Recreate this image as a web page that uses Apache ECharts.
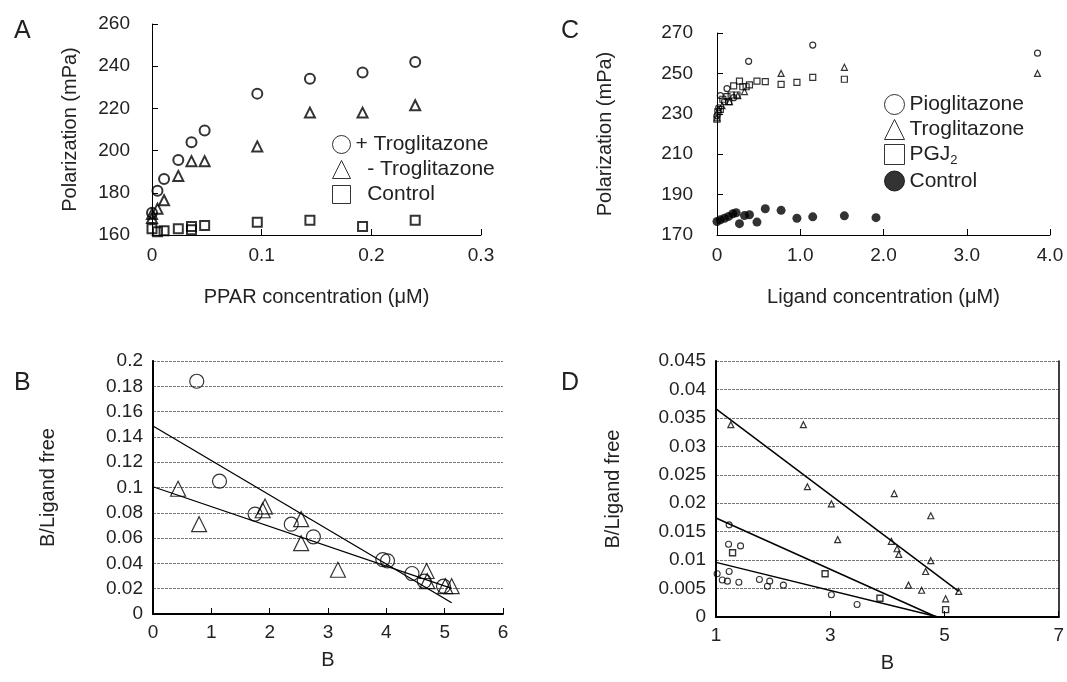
<!DOCTYPE html>
<html><head><meta charset="utf-8">
<script src="https://cdn.jsdelivr.net/npm/echarts@6/dist/echarts.min.js"></script>
<style>html,body{margin:0;padding:0;background:#fff}#c{width:1067px;height:682px}</style>
</head><body><div id="c"></div>
<script>
// ---- Panel A: polarization vs PPAR concentration ----
const aPlusTrog = [[0,170.5],[0.005,181],[0.011,186.5],[0.024,195.5],[0.036,204],[0.048,209.5],[0.096,227],[0.144,234],[0.192,237],[0.24,242]];
const aMinusTrog = [[0,168],[0,170],[0.005,172.5],[0.011,176.5],[0.024,188],[0.036,195],[0.048,195],[0.096,202],[0.144,218],[0.192,218],[0.24,221.5]];
const aControl = [[0,163],[0.005,161.5],[0.011,162],[0.024,163],[0.036,162.5],[0.036,164],[0.048,164.5],[0.096,166],[0.144,167],[0.192,164],[0.24,167]];
const aXTicks = [0, 0.1, 0.2, 0.3];
const aYTicks = [160, 180, 200, 220, 240, 260];
// ---- Panel C: polarization vs ligand concentration ----
const cPio = [[0,229],[0.02,233],[0.04,239],[0.09,236],[0.12,242.5],[0.2,238],[0.38,256],[1.15,264],[3.85,260]];
const cTrog = [[0,228],[0.02,232],[0.06,234],[0.15,236],[0.25,239],[0.33,241],[0.77,250],[1.53,253],[3.85,250]];
const cPGJ = [[0,227.3],[0.01,231],[0.04,232.2],[0.07,237.2],[0.12,238.5],[0.14,236],[0.17,239.3],[0.2,243.8],[0.24,239.3],[0.27,246.2],[0.31,243.4],[0.35,243.4],[0.39,244.3],[0.48,246.2],[0.58,245.9],[0.77,244.6],[0.96,245.6],[1.15,248],[1.53,247.1]];
const cControl = [[0,176.7],[0.04,177.5],[0.09,178.3],[0.14,179.2],[0.19,180.5],[0.23,181],[0.27,175.6],[0.33,179.6],[0.39,180],[0.48,176.4],[0.58,183],[0.77,182.2],[0.96,178.3],[1.15,179],[1.53,179.5],[1.91,178.6]];
// ---- Panel B: Scatchard plot ----
const bCircles = [[0.75,0.184],[1.14,0.105],[1.75,0.079],[2.37,0.071],[2.75,0.061],[3.94,0.043],[4.02,0.042],[4.44,0.032],[4.65,0.026],[4.98,0.022]];
const bTriangles = [[0.43,0.099],[0.79,0.071],[1.88,0.082],[1.92,0.085],[2.54,0.075],[2.54,0.056],[3.17,0.035],[4.69,0.034],[4.7,0.026],[5.01,0.022],[5.12,0.022]];
const bFit1 = [[0,0.1486],[5.12,0.0089]];
const bFit2 = [[0,0.1006],[5.12,0.0203]];
// ---- Panel D: Scatchard plot ----
const dTriangles = [[1.26,0.0338],[2.53,0.0338],[2.6,0.0229],[3.02,0.0199],[3.13,0.0136],[4.12,0.0217],[4.76,0.0178],[4.07,0.0133],[4.17,0.012],[4.2,0.011],[4.76,0.0099],[4.67,0.008],[4.37,0.0056],[4.6,0.0047],[5.25,0.0045],[5.02,0.0032]];
const dSquares = [[1.29,0.0113],[2.91,0.0076],[3.87,0.0033],[5.02,0.0013]];
const dCircles = [[1.02,0.0076],[1.23,0.0162],[1.22,0.0128],[1.43,0.0125],[1.23,0.008],[1.11,0.0065],[1.2,0.0063],[1.4,0.0061],[1.76,0.0066],[1.94,0.0063],[1.9,0.0054],[2.18,0.0056],[3.02,0.0039],[3.47,0.0022]];
const dFit1 = [[1,0.0366],[5.25,0.0045]];
const dFit2 = [[1,0.0174],[4.86,0]];
const dFit3 = [[1,0.0096],[4.89,0]];

const FONT = '"Liberation Sans", Arial, Helvetica, sans-serif';
const TXT = '#222';
const HOLLOW = 'rgba(255,255,255,0)';
const TICK_FS = 19, NAME_FS = 20, LEG_FS = 21;

function hollow(name, xi, yi, data, symbol, size, bw) {
  return { name, type: 'scatter', xAxisIndex: xi, yAxisIndex: yi, data, symbol, symbolSize: size,
    itemStyle: { color: HOLLOW, borderColor: '#000', borderWidth: bw }, z: 3, silent: true };
}
function fit(xi, yi, data, w) {
  return { type: 'line', xAxisIndex: xi, yAxisIndex: yi, data, showSymbol: false, symbol: 'none',
    lineStyle: { color: '#000', width: w }, z: 4, silent: true };
}
function xAx(gi, min, max, interval, fmt, name, gap, lw, lm) {
  return { type: 'value', gridIndex: gi, min, max, interval, name, nameLocation: 'middle', nameGap: gap,
    nameTextStyle: { fontFamily: FONT, fontSize: NAME_FS, color: TXT },
    axisLine: { show: true, onZero: false, lineStyle: { color: '#000', width: lw } },
    axisTick: { show: true, inside: true, length: 6, lineStyle: { color: '#000' } },
    axisLabel: { formatter: fmt, fontFamily: FONT, fontSize: TICK_FS, color: TXT, margin: lm },
    splitLine: { show: false } };
}
function yAx(gi, min, max, interval, fmt, name, gap, lw, lm, grid) {
  return { type: 'value', gridIndex: gi, min, max, interval, name, nameLocation: 'middle', nameGap: gap,
    nameTextStyle: { fontFamily: FONT, fontSize: NAME_FS, color: TXT },
    axisLine: { show: true, onZero: false, lineStyle: { color: '#000', width: lw } },
    axisTick: { show: !grid, inside: true, length: 6, lineStyle: { color: '#000' } },
    axisLabel: { formatter: fmt, fontFamily: FONT, fontSize: TICK_FS, color: TXT, margin: lm },
    splitLine: { show: !!grid, lineStyle: { color: '#777', type: [3, 1], width: 1 } } };
}
function rightBorder(gi, min, max) {
  return { type: 'value', gridIndex: gi, min, max, position: 'right',
    axisLine: { show: true, lineStyle: { color: '#000', width: 1.5 } },
    axisTick: { show: false }, axisLabel: { show: false }, splitLine: { show: false } };
}
const num = v => String(+v.toFixed(3));
const letter = (t, left, top) => ({ text: t, left, top, textStyle: { fontFamily: FONT, fontSize: 25, fontWeight: 'normal', color: TXT } });
const legA = { '+ Troglitazone': '+ Troglitazone', '- Troglitazone': '  - Troglitazone', 'Control': '  Control' };

const option = {
  backgroundColor: '#fff',
  animation: false,
  title: [ letter('A', 9, 14), letter('C', 556, 14), letter('B', 9, 366), letter('D', 556, 366) ],
  grid: [
    { left: 152, top: 24, width: 329, height: 211 },
    { left: 717, top: 33, width: 333, height: 202 },
    { left: 153, top: 361, width: 350, height: 253 },
    { left: 716, top: 361, width: 343, height: 256 }
  ],
  legend: [
    { orient: 'vertical', left: 332, top: 134, padding: 0, itemWidth: 18, itemHeight: 18, itemGap: 4, selectedMode: false,
      textStyle: { fontFamily: FONT, fontSize: LEG_FS, lineHeight: 18, color: TXT },
      formatter: n => legA[n] || n,
      itemStyle: { color: '#fff', borderColor: '#000', borderWidth: 1 },
      data: [ { name: '+ Troglitazone', icon: 'circle' }, { name: '- Troglitazone', icon: 'triangle' }, { name: 'Control', icon: 'rect' } ] },
    { orient: 'vertical', left: 884, top: 94, padding: 0, itemWidth: 20, itemHeight: 20, itemGap: 4, selectedMode: false,
      textStyle: { fontFamily: FONT, fontSize: LEG_FS, lineHeight: 20, color: TXT, rich: { s: { fontFamily: FONT, fontSize: 13, color: TXT, padding: [11, 0, 0, 0] } } },
      formatter: n => n === 'PGJ2' ? 'PGJ{s|2}' : n,
      itemStyle: { color: '#fff', borderColor: '#000', borderWidth: 1 },
      data: [ { name: 'Pioglitazone', icon: 'circle' }, { name: 'Troglitazone', icon: 'triangle' }, { name: 'PGJ2', icon: 'rect' },
              { name: 'Control', icon: 'circle', itemStyle: { color: '#000', borderColor: '#000', borderWidth: 1 } } ] }
  ],
  xAxis: [
    xAx(0, aXTicks[0], aXTicks[aXTicks.length - 1], 0.1, v => v === 0 ? '0' : String(+v.toFixed(1)), 'PPAR concentration (μM)', 52, 1, 11),
    xAx(1, 0, 4, 1, v => v === 0 ? '0' : v.toFixed(1), 'Ligand concentration (μM)', 52, 1, 11),
    xAx(2, 0, 6, 1, v => String(v), 'B', 36, 2, 9),
    xAx(3, 1, 7, 2, v => String(v), 'B', 36, 2, 9)
  ],
  yAxis: [
    yAx(0, aYTicks[0], aYTicks[aYTicks.length - 1], 20, v => String(v), 'Polarization (mPa)', 72, 1, 22, false),
    yAx(1, 170, 270, 20, v => String(v), 'Polarization (mPa)', 102, 1, 24, false),
    yAx(2, 0, 0.2, 0.02, num, 'B/Ligand free', 95, 2, 10, true),
    yAx(3, 0, 0.045, 0.005, num, 'B/Ligand free', 93, 2, 10, true),
    rightBorder(2, 0, 0.2),
    rightBorder(3, 0, 0.045)
  ],
  series: [
    hollow('+ Troglitazone', 0, 0, aPlusTrog, 'circle', 10, 2),
    hollow('- Troglitazone', 0, 0, aMinusTrog, 'triangle', 10, 2),
    hollow('Control', 0, 0, aControl, 'rect', 9, 2),
    hollow('Pioglitazone', 1, 1, cPio, 'circle', 6, 1.2),
    hollow('Troglitazone', 1, 1, cTrog, 'triangle', 6, 1.2),
    hollow('PGJ2', 1, 1, cPGJ, 'rect', 6, 1.2),
    { name: 'Control', type: 'scatter', xAxisIndex: 1, yAxisIndex: 1, data: cControl, symbol: 'circle', symbolSize: 9,
      itemStyle: { color: '#000' }, z: 3, silent: true },
    hollow('B circles', 2, 2, bCircles, 'circle', 14, 1.2),
    hollow('B triangles', 2, 2, bTriangles, 'triangle', 15, 1.2),
    fit(2, 2, bFit1, 1.3),
    fit(2, 2, bFit2, 1.3),
    hollow('D triangles', 3, 3, dTriangles, 'triangle', 6, 1.2),
    hollow('D squares', 3, 3, dSquares, 'rect', 6, 1.4),
    hollow('D circles', 3, 3, dCircles, 'circle', 6, 1.1),
    fit(3, 3, dFit1, 1.5),
    fit(3, 3, dFit2, 1.5),
    fit(3, 3, dFit3, 1.5)
  ]
};
const chart = echarts.init(document.getElementById('c'), null, { renderer: 'canvas' });
chart.setOption(option);
</script>
</body></html>
